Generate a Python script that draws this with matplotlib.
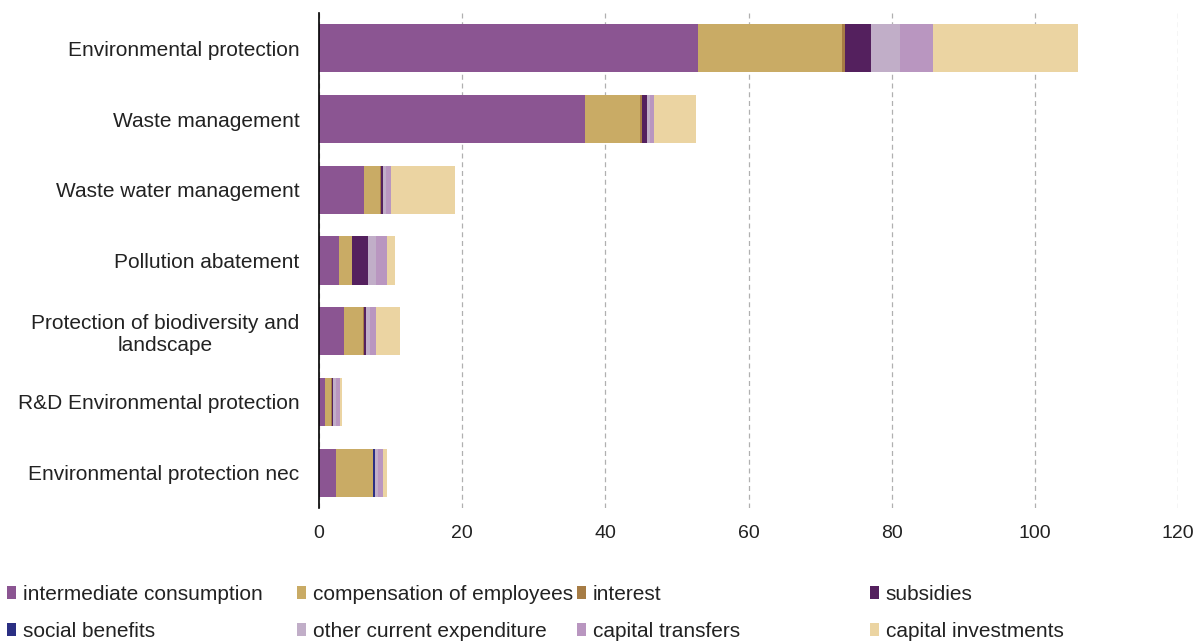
import matplotlib.pyplot as plt
from matplotlib.patches import Patch

plt.rcParams['font.family'] = ['Liberation Sans', 'DejaVu Sans']

categories = ["Environmental protection", "Waste management", "Waste water management",
              "Pollution abatement", "Protection of biodiversity and\nlandscape",
              "R&D Environmental protection", "Environmental protection nec"]

series_names = ["intermediate consumption", "compensation of employees", "interest", "subsidies",
                "social benefits", "other current expenditure", "capital transfers", "capital investments"]

intermediate = [53.0, 37.2, 6.3, 2.8, 3.5, 0.8, 2.4]
compensation = [20.0, 7.6, 2.2, 1.8, 2.7, 0.9, 5.1]
interest = [0.5, 0.3, 0.2, 0.0, 0.1, 0.1, 0.0]
subsidies = [3.6, 0.7, 0.2, 2.3, 0.3, 0.2, 0.0]
social = [0.0, 0.0, 0.0, 0.0, 0.0, 0.0, 0.3]
other_current = [4.1, 0.4, 0.4, 1.1, 0.5, 0.4, 0.4]
capital_transfers = [4.6, 0.6, 0.8, 1.5, 0.9, 0.6, 0.7]
capital_investments = [20.3, 5.8, 8.9, 1.1, 3.3, 0.2, 0.6]

colors = ["#8b5592", "#c9ab65", "#a67c45", "#54205e", "#2b2f83", "#c1aec8", "#b996c0", "#ebd4a2"]
series = [intermediate, compensation, interest, subsidies, social, other_current,
          capital_transfers, capital_investments]

fig = plt.figure(figsize=(11.97, 6.41), dpi=100)
ax = fig.add_axes([319 / 1197, 1 - 508 / 641, 859 / 1197, 495 / 641])

y = list(range(len(categories)))
left = [0.0] * len(categories)
for vals, col in zip(series, colors):
    ax.barh(y, vals, left=left, height=0.68, color=col, zorder=3)
    left = [a + b for a, b in zip(left, vals)]

ax.set_xlim(0, 120)
ax.set_ylim(len(categories) - 0.5, -0.5)
ax.set_xticks(range(0, 121, 20))
ax.set_yticks(y)
ax.set_yticklabels(categories, fontsize=15, color="#222222")
ax.tick_params(axis="x", labelsize=14, colors="#222222", length=0, pad=12)
ax.tick_params(axis="y", length=0, pad=14)
for lab in ax.get_yticklabels():
    lab.set_horizontalalignment("right")
    lab.set_multialignment("center")
ax.grid(axis="x", color="#b0b0b0", linestyle=(0, (4, 3)), linewidth=0.9, zorder=0)
for s in ["top", "right", "bottom"]:
    ax.spines[s].set_visible(False)
ax.spines["left"].set_color("black")
ax.spines["left"].set_linewidth(1.2)
ax.spines["left"].set_zorder(4)

# legend: 4 columns, two rows, fixed column widths
col_x = [7, 297, 577, 870]
order = [[0, 4], [1, 5], [2, 6], [3, 7]]
for cx, idx in zip(col_x, order):
    handles = [Patch(facecolor=colors[i], edgecolor="none") for i in idx]
    labels = [series_names[i] for i in idx]
    fig.legend(handles, labels, loc="upper left", bbox_to_anchor=(cx / 1197, 1 - 585 / 641),
               frameon=False, fontsize=15, handlelength=0.45, handleheight=0.6,
               handletextpad=0.3, labelspacing=0.86, borderpad=0, borderaxespad=0,
               labelcolor="#222222")

fig.savefig("out.png", dpi=100)
